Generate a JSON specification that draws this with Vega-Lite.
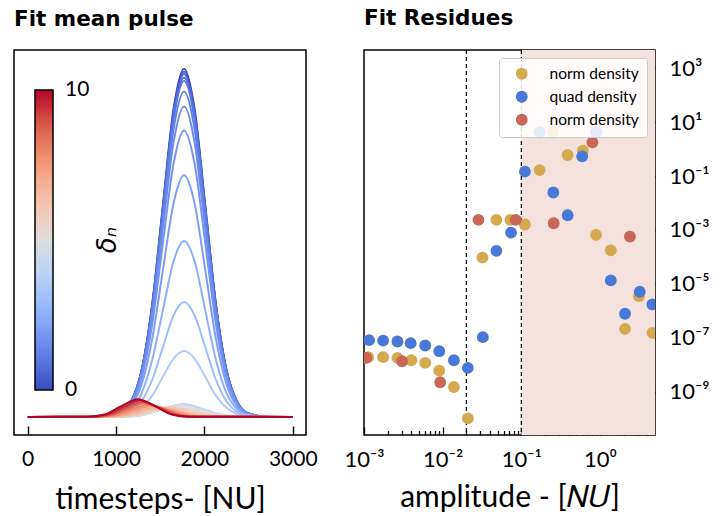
{
  "$schema": "https://vega.github.io/schema/vega-lite/v6.json",
  "background": "white",
  "padding": {"left": 13, "top": 7, "right": 5, "bottom": 5},
  "bounds": "flush",
  "spacing": 58,
  "config": {
    "view": {"stroke": "black", "strokeWidth": 1.5},
    "font": "Lato",
    "title": {"font": "DejaVu Sans", "fontWeight": "bold", "fontSize": 21.5, "anchor": "start", "frame": "group", "offset": 20, "color": "black"},
    "axis": {"labelFont": "Lato", "titleFont": "Lato", "labelColor": "black", "titleColor": "black", "tickColor": "black", "domain": false, "grid": false, "titleFontWeight": "normal", "labelFlush": false, "labelOverlap": false}
  },
  "resolve": {"scale": {"stroke": "independent", "fill": "independent"}, "legend": {"stroke": "independent", "fill": "independent"}},
  "hconcat": [
    {
      "title": "Fit mean pulse",
      "width": 292,
      "height": 385,
      "data": {"values": [
        {"d":0,"t":0,"v":0},{"d":0,"t":810,"v":0},{"d":0,"t":1050,"v":0.011},{"d":0,"t":1170,"v":0.044},{"d":0,"t":1290,"v":0.135},{"d":0,"t":1410,"v":0.325},{"d":0,"t":1530,"v":0.607},{"d":0,"t":1650,"v":0.883},{"d":0,"t":1770,"v":1.0},{"d":0,"t":1890,"v":0.883},{"d":0,"t":2010,"v":0.607},{"d":0,"t":2130,"v":0.325},{"d":0,"t":2250,"v":0.135},{"d":0,"t":2370,"v":0.044},{"d":0,"t":2490,"v":0.011},{"d":0,"t":2730,"v":0},{"d":0,"t":3000,"v":0},
        {"d":0.25,"t":0,"v":0},{"d":0.25,"t":810,"v":0},{"d":0.25,"t":1050,"v":0.011},{"d":0.25,"t":1170,"v":0.044},{"d":0.25,"t":1290,"v":0.134},{"d":0.25,"t":1410,"v":0.322},{"d":0.25,"t":1530,"v":0.602},{"d":0.25,"t":1650,"v":0.875},{"d":0.25,"t":1770,"v":0.992},{"d":0.25,"t":1890,"v":0.875},{"d":0.25,"t":2010,"v":0.602},{"d":0.25,"t":2130,"v":0.322},{"d":0.25,"t":2250,"v":0.134},{"d":0.25,"t":2370,"v":0.044},{"d":0.25,"t":2490,"v":0.011},{"d":0.25,"t":2730,"v":0},{"d":0.25,"t":3000,"v":0},
        {"d":0.5,"t":0,"v":0},{"d":0.5,"t":810,"v":0},{"d":0.5,"t":1050,"v":0.011},{"d":0.5,"t":1170,"v":0.043},{"d":0.5,"t":1290,"v":0.133},{"d":0.5,"t":1410,"v":0.32},{"d":0.5,"t":1530,"v":0.597},{"d":0.5,"t":1650,"v":0.869},{"d":0.5,"t":1770,"v":0.985},{"d":0.5,"t":1890,"v":0.869},{"d":0.5,"t":2010,"v":0.597},{"d":0.5,"t":2130,"v":0.32},{"d":0.5,"t":2250,"v":0.133},{"d":0.5,"t":2370,"v":0.043},{"d":0.5,"t":2490,"v":0.011},{"d":0.5,"t":2730,"v":0},{"d":0.5,"t":3000,"v":0},
        {"d":0.75,"t":0,"v":0},{"d":0.75,"t":810,"v":0},{"d":0.75,"t":1050,"v":0.011},{"d":0.75,"t":1170,"v":0.043},{"d":0.75,"t":1290,"v":0.132},{"d":0.75,"t":1410,"v":0.317},{"d":0.75,"t":1530,"v":0.591},{"d":0.75,"t":1650,"v":0.86},{"d":0.75,"t":1770,"v":0.975},{"d":0.75,"t":1890,"v":0.86},{"d":0.75,"t":2010,"v":0.591},{"d":0.75,"t":2130,"v":0.317},{"d":0.75,"t":2250,"v":0.132},{"d":0.75,"t":2370,"v":0.043},{"d":0.75,"t":2490,"v":0.011},{"d":0.75,"t":2730,"v":0},{"d":0.75,"t":3000,"v":0},
        {"d":1,"t":0,"v":0},{"d":1,"t":810,"v":0},{"d":1,"t":1050,"v":0.011},{"d":1,"t":1170,"v":0.042},{"d":1,"t":1290,"v":0.131},{"d":1,"t":1410,"v":0.314},{"d":1,"t":1530,"v":0.586},{"d":1,"t":1650,"v":0.853},{"d":1,"t":1770,"v":0.966},{"d":1,"t":1890,"v":0.853},{"d":1,"t":2010,"v":0.586},{"d":1,"t":2130,"v":0.314},{"d":1,"t":2250,"v":0.131},{"d":1,"t":2370,"v":0.042},{"d":1,"t":2490,"v":0.011},{"d":1,"t":2730,"v":0},{"d":1,"t":3000,"v":0},
        {"d":1.25,"t":0,"v":0},{"d":1.25,"t":810,"v":0},{"d":1.25,"t":1050,"v":0.01},{"d":1.25,"t":1170,"v":0.041},{"d":1.25,"t":1290,"v":0.127},{"d":1.25,"t":1410,"v":0.304},{"d":1.25,"t":1530,"v":0.567},{"d":1.25,"t":1650,"v":0.825},{"d":1.25,"t":1770,"v":0.935},{"d":1.25,"t":1890,"v":0.825},{"d":1.25,"t":2010,"v":0.567},{"d":1.25,"t":2130,"v":0.304},{"d":1.25,"t":2250,"v":0.127},{"d":1.25,"t":2370,"v":0.041},{"d":1.25,"t":2490,"v":0.01},{"d":1.25,"t":2730,"v":0},{"d":1.25,"t":3000,"v":0},
        {"d":1.5,"t":0,"v":0},{"d":1.5,"t":810,"v":0},{"d":1.5,"t":1050,"v":0.01},{"d":1.5,"t":1170,"v":0.039},{"d":1.5,"t":1290,"v":0.121},{"d":1.5,"t":1410,"v":0.29},{"d":1.5,"t":1530,"v":0.541},{"d":1.5,"t":1650,"v":0.787},{"d":1.5,"t":1770,"v":0.892},{"d":1.5,"t":1890,"v":0.787},{"d":1.5,"t":2010,"v":0.541},{"d":1.5,"t":2130,"v":0.29},{"d":1.5,"t":2250,"v":0.121},{"d":1.5,"t":2370,"v":0.039},{"d":1.5,"t":2490,"v":0.01},{"d":1.5,"t":2730,"v":0},{"d":1.5,"t":3000,"v":0},
        {"d":1.75,"t":0,"v":0},{"d":1.75,"t":810,"v":0},{"d":1.75,"t":1050,"v":0.009},{"d":1.75,"t":1170,"v":0.036},{"d":1.75,"t":1290,"v":0.111},{"d":1.75,"t":1410,"v":0.267},{"d":1.75,"t":1530,"v":0.499},{"d":1.75,"t":1650,"v":0.726},{"d":1.75,"t":1770,"v":0.823},{"d":1.75,"t":1890,"v":0.726},{"d":1.75,"t":2010,"v":0.499},{"d":1.75,"t":2130,"v":0.267},{"d":1.75,"t":2250,"v":0.111},{"d":1.75,"t":2370,"v":0.036},{"d":1.75,"t":2490,"v":0.009},{"d":1.75,"t":2730,"v":0},{"d":1.75,"t":3000,"v":0},
        {"d":2,"t":0,"v":0},{"d":2,"t":810,"v":0},{"d":2,"t":1050,"v":0.008},{"d":2,"t":1170,"v":0.03},{"d":2,"t":1290,"v":0.094},{"d":2,"t":1410,"v":0.225},{"d":2,"t":1530,"v":0.421},{"d":2,"t":1650,"v":0.612},{"d":2,"t":1770,"v":0.694},{"d":2,"t":1890,"v":0.612},{"d":2,"t":2010,"v":0.421},{"d":2,"t":2130,"v":0.225},{"d":2,"t":2250,"v":0.094},{"d":2,"t":2370,"v":0.03},{"d":2,"t":2490,"v":0.008},{"d":2,"t":2730,"v":0},{"d":2,"t":3000,"v":0},
        {"d":2.5,"t":0,"v":0},{"d":2.5,"t":810,"v":0},{"d":2.5,"t":1050,"v":0.006},{"d":2.5,"t":1170,"v":0.022},{"d":2.5,"t":1290,"v":0.068},{"d":2.5,"t":1410,"v":0.164},{"d":2.5,"t":1530,"v":0.306},{"d":2.5,"t":1650,"v":0.446},{"d":2.5,"t":1770,"v":0.505},{"d":2.5,"t":1890,"v":0.446},{"d":2.5,"t":2010,"v":0.306},{"d":2.5,"t":2130,"v":0.164},{"d":2.5,"t":2250,"v":0.068},{"d":2.5,"t":2370,"v":0.022},{"d":2.5,"t":2490,"v":0.006},{"d":2.5,"t":2730,"v":0},{"d":2.5,"t":3000,"v":0},
        {"d":3,"t":0,"v":0},{"d":3,"t":810,"v":0},{"d":3,"t":1050,"v":0.004},{"d":3,"t":1170,"v":0.014},{"d":3,"t":1290,"v":0.045},{"d":3,"t":1410,"v":0.107},{"d":3,"t":1530,"v":0.2},{"d":3,"t":1650,"v":0.291},{"d":3,"t":1770,"v":0.33},{"d":3,"t":1890,"v":0.291},{"d":3,"t":2010,"v":0.2},{"d":3,"t":2130,"v":0.107},{"d":3,"t":2250,"v":0.045},{"d":3,"t":2370,"v":0.014},{"d":3,"t":2490,"v":0.004},{"d":3,"t":2730,"v":0},{"d":3,"t":3000,"v":0},
        {"d":3.5,"t":0,"v":0},{"d":3.5,"t":810,"v":0},{"d":3.5,"t":1050,"v":0.002},{"d":3.5,"t":1170,"v":0.008},{"d":3.5,"t":1290,"v":0.026},{"d":3.5,"t":1410,"v":0.061},{"d":3.5,"t":1530,"v":0.115},{"d":3.5,"t":1650,"v":0.167},{"d":3.5,"t":1770,"v":0.189},{"d":3.5,"t":1890,"v":0.167},{"d":3.5,"t":2010,"v":0.115},{"d":3.5,"t":2130,"v":0.061},{"d":3.5,"t":2250,"v":0.026},{"d":3.5,"t":2370,"v":0.008},{"d":3.5,"t":2490,"v":0.002},{"d":3.5,"t":2730,"v":0},{"d":3.5,"t":3000,"v":0},
        {"d":4,"t":0,"v":0},{"d":4,"t":1070,"v":0.0004},{"d":4,"t":1300,"v":0.005},{"d":4,"t":1530,"v":0.0224},{"d":4,"t":1760,"v":0.037},{"d":4,"t":1990,"v":0.0224},{"d":4,"t":2220,"v":0.005},{"d":4,"t":2450,"v":0.0004},{"d":4,"t":3000,"v":0},
        {"d":4.5,"t":0,"v":0},{"d":4.5,"t":1050,"v":0.0004},{"d":4.5,"t":1280,"v":0.0047},{"d":4.5,"t":1510,"v":0.0212},{"d":4.5,"t":1740,"v":0.035},{"d":4.5,"t":1970,"v":0.0212},{"d":4.5,"t":2200,"v":0.0047},{"d":4.5,"t":2430,"v":0.0004},{"d":4.5,"t":3000,"v":0},
        {"d":5,"t":0,"v":0},{"d":5,"t":1020,"v":0.0004},{"d":5,"t":1250,"v":0.0045},{"d":5,"t":1480,"v":0.02},{"d":5,"t":1710,"v":0.033},{"d":5,"t":1940,"v":0.02},{"d":5,"t":2170,"v":0.0045},{"d":5,"t":2400,"v":0.0004},{"d":5,"t":3000,"v":0},
        {"d":5.5,"t":0,"v":0},{"d":5.5,"t":985,"v":0.0003},{"d":5.5,"t":1210,"v":0.0041},{"d":5.5,"t":1435,"v":0.0182},{"d":5.5,"t":1660,"v":0.03},{"d":5.5,"t":1885,"v":0.0182},{"d":5.5,"t":2110,"v":0.0041},{"d":5.5,"t":2335,"v":0.0003},{"d":5.5,"t":3000,"v":0},
        {"d":6,"t":0,"v":0},{"d":6,"t":940,"v":0.0003},{"d":6,"t":1160,"v":0.0037},{"d":6,"t":1380,"v":0.0164},{"d":6,"t":1600,"v":0.027},{"d":6,"t":1820,"v":0.0164},{"d":6,"t":2040,"v":0.0037},{"d":6,"t":2260,"v":0.0003},{"d":6,"t":3000,"v":0},
        {"d":6.5,"t":0,"v":0},{"d":6.5,"t":885,"v":0.0003},{"d":6.5,"t":1100,"v":0.0035},{"d":6.5,"t":1315,"v":0.0158},{"d":6.5,"t":1530,"v":0.026},{"d":6.5,"t":1745,"v":0.0158},{"d":6.5,"t":1960,"v":0.0035},{"d":6.5,"t":2175,"v":0.0003},{"d":6.5,"t":3000,"v":0},
        {"d":7,"t":0,"v":0},{"d":7,"t":840,"v":0.0003},{"d":7,"t":1050,"v":0.0038},{"d":7,"t":1260,"v":0.017},{"d":7,"t":1470,"v":0.028},{"d":7,"t":1680,"v":0.017},{"d":7,"t":1890,"v":0.0038},{"d":7,"t":2100,"v":0.0003},{"d":7,"t":3000,"v":0},
        {"d":7.5,"t":0,"v":0},{"d":7.5,"t":795,"v":0.0003},{"d":7.5,"t":1000,"v":0.0042},{"d":7.5,"t":1205,"v":0.0188},{"d":7.5,"t":1410,"v":0.031},{"d":7.5,"t":1615,"v":0.0188},{"d":7.5,"t":1820,"v":0.0042},{"d":7.5,"t":2025,"v":0.0003},{"d":7.5,"t":3000,"v":0},
        {"d":8,"t":0,"v":0},{"d":8,"t":770,"v":0.0004},{"d":8,"t":970,"v":0.0047},{"d":8,"t":1170,"v":0.0212},{"d":8,"t":1370,"v":0.035},{"d":8,"t":1570,"v":0.0212},{"d":8,"t":1770,"v":0.0047},{"d":8,"t":1970,"v":0.0004},{"d":8,"t":3000,"v":0},
        {"d":8.5,"t":0,"v":0},{"d":8.5,"t":745,"v":0.0004},{"d":8.5,"t":940,"v":0.0053},{"d":8.5,"t":1135,"v":0.0237},{"d":8.5,"t":1330,"v":0.039},{"d":8.5,"t":1525,"v":0.0237},{"d":8.5,"t":1720,"v":0.0053},{"d":8.5,"t":1915,"v":0.0004},{"d":8.5,"t":3000,"v":0},
        {"d":9,"t":0,"v":0},{"d":9,"t":730,"v":0.0005},{"d":9,"t":920,"v":0.0058},{"d":9,"t":1110,"v":0.0261},{"d":9,"t":1300,"v":0.043},{"d":9,"t":1490,"v":0.0261},{"d":9,"t":1680,"v":0.0058},{"d":9,"t":1870,"v":0.0005},{"d":9,"t":3000,"v":0},
        {"d":9.5,"t":0,"v":0},{"d":9.5,"t":705,"v":0.0005},{"d":9.5,"t":895,"v":0.0064},{"d":9.5,"t":1085,"v":0.0285},{"d":9.5,"t":1275,"v":0.047},{"d":9.5,"t":1465,"v":0.0285},{"d":9.5,"t":1655,"v":0.0064},{"d":9.5,"t":1845,"v":0.0005},{"d":9.5,"t":3000,"v":0},
        {"d":10,"t":0,"v":0},{"d":10,"t":680,"v":0.0006},{"d":10,"t":870,"v":0.0069},{"d":10,"t":1060,"v":0.0309},{"d":10,"t":1250,"v":0.051},{"d":10,"t":1440,"v":0.0309},{"d":10,"t":1630,"v":0.0069},{"d":10,"t":1820,"v":0.0006},{"d":10,"t":3000,"v":0}
      ]},
      "mark": {"type": "line", "strokeWidth": 2, "interpolate": "monotone", "clip": true},
      "encoding": {
        "x": {
          "field": "t", "type": "quantitative",
          "scale": {"domain": [-155, 3150], "nice": false, "zero": false},
          "axis": {"values": [0, 1000, 2000, 3000], "format": "d", "title": "timesteps- [NU]", "tickSize": -9, "tickWidth": 1.5, "labelFontSize": 21, "labelPadding": 22, "titleFontSize": 30, "titlePadding": 15}
        },
        "y": {"field": "v", "type": "quantitative", "scale": {"domain": [-0.052, 1.054], "nice": false, "zero": false}, "axis": null},
        "stroke": {
          "field": "d", "type": "quantitative",
          "scale": {"domain": [0, 10], "range": ["#3b4cc0", "#6282ea", "#8db0fe", "#b8d0f9", "#dddddd", "#f5c4ad", "#f49a7b", "#de604d", "#b40426"], "interpolate": "rgb"},
          "legend": {
            "orient": "none", "legendX": 21, "legendY": 40, "direction": "vertical",
            "gradientLength": 300, "gradientThickness": 18, "gradientStrokeColor": "black", "gradientStrokeWidth": 1.5,
            "values": [0, 10], "labelFontSize": 21, "labelFont": "Lato", "labelOffset": 12, "labelColor": "black",
            "title": "δₙ", "titleOrient": "right", "titleAnchor": "middle",
            "titleFontSize": 26, "titleFontStyle": "italic", "titleFontWeight": "normal", "titleFont": "DejaVu Sans", "titleColor": "black", "titlePadding": 6,
            "encode": {
              "labels": {"update": {"baseline": {"value": "middle"}}},
              "title": {"update": {"angle": {"value": -90}, "baseline": {"value": "top"}}}
            }
          }
        },
        "detail": {"field": "d", "type": "nominal"}
      }
    },
    {
      "title": "Fit Residues",
      "width": 291,
      "height": 385,
      "layer": [
        {
          "data": {"values": [{"lo": 0.1, "hi": 5}]},
          "mark": {"type": "rect", "color": "#f3e2de"},
          "encoding": {
            "x": {"field": "lo", "type": "quantitative", "scale": {"type": "log", "domain": [0.001, 5], "nice": false}},
            "x2": {"field": "hi"}
          }
        },
        {
          "data": {"values": [{"c": 0.02}, {"c": 0.1}]},
          "mark": {"type": "rule", "strokeDash": [4, 3], "strokeWidth": 1.2, "color": "black"},
          "encoding": {
            "x": {"field": "c", "type": "quantitative", "scale": {"type": "log"}}
          }
        },
        {
          "data": {"values": [
            {"s":"norm density","a":0.00113,"r":1.92e-8},{"s":"norm density","a":0.00175,"r":1.92e-8},{"s":"norm density","a":0.00266,"r":1.8e-8},{"s":"norm density","a":0.0040,"r":1.48e-8},{"s":"norm density","a":0.0060,"r":1.18e-8},{"s":"norm density","a":0.00905,"r":6.1e-9},{"s":"norm density","a":0.0139,"r":1.5e-9},{"s":"norm density","a":0.0209,"r":1.03e-10},{"s":"norm density","a":0.032,"r":9.4e-5},{"s":"norm density","a":0.0482,"r":2.37e-3},{"s":"norm density","a":0.0726,"r":2.37e-3},{"s":"norm density","a":0.111,"r":1.59e-3},{"s":"norm density","a":0.171,"r":0.166},{"s":"norm density","a":0.255,"r":4.2},{"s":"norm density","a":0.388,"r":0.60},{"s":"norm density","a":0.605,"r":0.87},{"s":"norm density","a":0.89,"r":6.6e-4},{"s":"norm density","a":1.37,"r":1.76e-4},{"s":"norm density","a":2.08,"r":2.16e-7},{"s":"norm density","a":3.13,"r":3.5e-6},{"s":"norm density","a":4.63,"r":1.53e-7},
            {"s":"quad density","a":0.00116,"r":8.2e-8},{"s":"quad density","a":0.00175,"r":7.9e-8},{"s":"quad density","a":0.00266,"r":7.3e-8},{"s":"quad density","a":0.00392,"r":6.35e-8},{"s":"quad density","a":0.0060,"r":5.2e-8},{"s":"quad density","a":0.00905,"r":3.2e-8},{"s":"quad density","a":0.0139,"r":1.48e-8},{"s":"quad density","a":0.0209,"r":7.7e-9},{"s":"quad density","a":0.0324,"r":1.06e-7},{"s":"quad density","a":0.0482,"r":1.67e-4},{"s":"quad density","a":0.074,"r":8.0e-4},{"s":"quad density","a":0.111,"r":0.145},{"s":"quad density","a":0.171,"r":4.2},{"s":"quad density","a":0.255,"r":0.0245},{"s":"quad density","a":0.388,"r":3.5e-3},{"s":"quad density","a":0.593,"r":0.536},{"s":"quad density","a":0.90,"r":4.2},{"s":"quad density","a":1.37,"r":1.35e-5},{"s":"quad density","a":2.08,"r":7.8e-7},{"s":"quad density","a":3.2,"r":5.1e-6},{"s":"quad density","a":4.63,"r":1.73e-6},
            {"s":"norm density 2","a":0.00107,"r":1.8e-8},{"s":"norm density 2","a":0.00305,"r":1.36e-8},{"s":"norm density 2","a":0.0093,"r":2.25e-9},{"s":"norm density 2","a":0.0285,"r":2.37e-3},{"s":"norm density 2","a":0.085,"r":2.37e-3},{"s":"norm density 2","a":0.258,"r":1.77e-3},{"s":"norm density 2","a":0.80,"r":1.77},{"s":"norm density 2","a":2.40,"r":5.7e-4}
          ]},
          "mark": {"type": "point", "filled": true, "shape": "circle", "size": 140, "opacity": 1, "clip": true},
          "encoding": {
            "x": {
              "field": "a", "type": "quantitative", "scale": {"type": "log"},
              "axis": {
                "values": [0.001, 0.002, 0.003, 0.004, 0.005, 0.006, 0.007, 0.008, 0.009, 0.01, 0.02, 0.03, 0.04, 0.05, 0.06, 0.07, 0.08, 0.09, 0.1, 0.2, 0.3, 0.4, 0.5, 0.6, 0.7, 0.8, 0.9, 1, 2, 3, 4],
                "labelExpr": "abs(log(datum.value)/LN10 - round(log(datum.value)/LN10)) < 0.001 ? '10' + {'-3': '⁻³', '-2': '⁻²', '-1': '⁻¹', '0': '⁰'}[toString(round(log(datum.value)/LN10))] : ''",
                "tickSize": {"condition": {"test": "abs(log(datum.value)/LN10 - round(log(datum.value)/LN10)) < 0.001", "value": -8}, "value": -4.5},
                "tickWidth": 1.3,
                "labelFontSize": 22, "labelPadding": 22,
                "title": "amplitude - [𝑁𝑈]", "titleFontSize": 30, "titlePadding": 9
              }
            },
            "y": {
              "field": "r", "type": "quantitative",
              "scale": {"type": "log", "domain": [2.5e-11, 4700], "nice": false},
              "axis": {
                "orient": "right",
                "values": [1e-9, 1e-7, 1e-5, 1e-3, 1e-1, 10, 1000],
                "labelExpr": "'10' + {'-9': '⁻⁹', '-7': '⁻⁷', '-5': '⁻⁵', '-3': '⁻³', '-1': '⁻¹', '1': '¹', '3': '³'}[toString(round(log(datum.value)/LN10))]",
                "tickSize": -9, "tickWidth": 1.5,
                "labelFontSize": 22, "labelPadding": 23,
                "title": null
              }
            },
            "fill": {
              "field": "s", "type": "nominal",
              "scale": {"domain": ["norm density", "quad density", "norm density 2"], "range": ["#d4a94f", "#4a78d6", "#c86758"]},
              "legend": {
                "title": null, "orient": "top-right", "offset": 8, "padding": 8,
                "fillColor": "rgba(255,255,255,0.85)", "strokeColor": "#cccccc", "cornerRadius": 3,
                "symbolType": "circle", "symbolSize": 140, "symbolOffset": 7, "symbolStrokeWidth": 0,
                "labelOffset": 20, "labelFontSize": 15.5, "labelFont": "Lato", "labelColor": "black", "rowPadding": 6,
                "labelExpr": "replace(datum.label, ' 2', '')"
              }
            }
          }
        }
      ]
    }
  ]
}
